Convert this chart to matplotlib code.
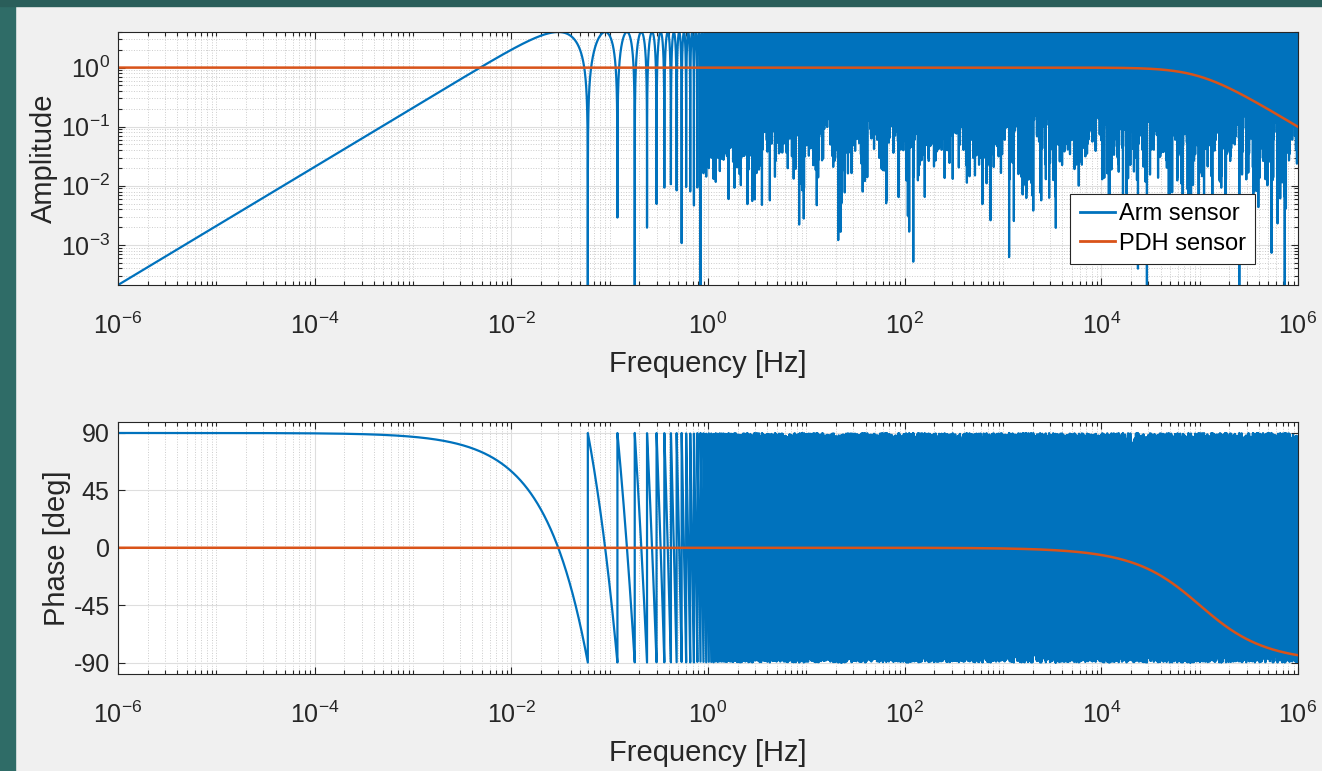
import numpy as np
import matplotlib.pyplot as plt
from matplotlib.patches import Rectangle
from matplotlib.ticker import LogLocator, NullFormatter

# sensor model values
arm_length = 2.5e9          # m, gives the 0.06 Hz notch spacing
c_light = 299792458.0       # m/s
arm_gain = 2.0              # peak amplitude 4
pdh_pole = 1.0e5            # Hz, PDH cavity pole
freq_exp = [-6, 6]          # frequency range, decades
n_points = 100000           # frequency samples

series_names = ['Arm sensor', 'PDH sensor']
x_ticks = [1e-6, 1e-4, 1e-2, 1e0, 1e2, 1e4, 1e6]
amp_ticks = [1e-3, 1e-2, 1e-1, 1e0]
phase_ticks = [-90, -45, 0, 45, 90]

blue = '#0072BD'
orange = '#D95319'

f = np.logspace(freq_exp[0], freq_exp[1], n_points)
T = 2 * arm_length / c_light
arm = arm_gain * (1 - np.exp(-2j * np.pi * f * T))
pdh = 1 / (1 + 1j * f / pdh_pole)

plt.rcParams['font.family'] = ['Liberation Sans', 'DejaVu Sans']
plt.rcParams['mathtext.fontset'] = 'custom'
plt.rcParams['mathtext.rm'] = 'Liberation Sans'
plt.rcParams['mathtext.it'] = 'Liberation Sans:italic'
plt.rcParams['mathtext.bf'] = 'Liberation Sans:bold'
plt.rcParams['axes.unicode_minus'] = False

W, H = 1322, 771
fig = plt.figure(figsize=(W / 100, H / 100), dpi=100, facecolor='#f0f0f0')
# slide background showing on the left and top
fig.patches.append(Rectangle((0, 0), 15 / W, 1, transform=fig.transFigure,
                             color='#2f6c67', zorder=-1))
fig.patches.append(Rectangle((0, 1 - 6 / H), 1, 6 / H, transform=fig.transFigure,
                             color='#2a5e5a', zorder=-1))

ax1 = fig.add_axes([118 / W, 1 - 285 / H, 1180 / W, 253 / H])
ax2 = fig.add_axes([118 / W, 1 - 674 / H, 1180 / W, 252.5 / H])

ax1.loglog(f, np.abs(arm), color=blue, lw=1.6, label=series_names[0])
ax1.loglog(f, np.abs(pdh), color=orange, lw=1.8, label=series_names[1])
ax2.semilogx(f, np.angle(arm, deg=True), color=blue, lw=1.6)
ax2.semilogx(f, np.angle(pdh, deg=True), color=orange, lw=1.8)

amp = np.abs(arm)
ax1.set_ylim(amp[0], amp.max())
ax2.set_ylim(-99, 99)

for ax in (ax1, ax2):
    ax.set_facecolor('white')
    ax.set_xlim(f[0], f[-1])
    ax.set_xticks(x_ticks)
    ax.xaxis.set_minor_locator(LogLocator(base=10, subs=np.arange(1, 10), numticks=200))
    ax.xaxis.set_minor_formatter(NullFormatter())
    ax.tick_params(which='both', direction='in', top=True, right=True,
                   color='#262626', labelcolor='#262626', labelsize=18, width=0.8)
    ax.tick_params(which='major', length=5)
    ax.tick_params(which='minor', length=3)
    ax.tick_params(axis='x', which='major', pad=20)
    ax.tick_params(axis='y', pad=6)
    for sp in ax.spines.values():
        sp.set_color('#262626')
        sp.set_linewidth(0.8)
    ax.grid(True, which='major', color='#dedede', lw=0.8)
    ax.set_axisbelow(True)
    ax.set_xlabel('Frequency [Hz]', fontsize=21, color='#262626', labelpad=8)

ax1.set_yticks(amp_ticks)
ax1.yaxis.set_minor_locator(LogLocator(base=10, subs=np.arange(2, 10), numticks=50))
ax1.yaxis.set_minor_formatter(NullFormatter())
ax1.grid(True, which='minor', color='#cccccc', lw=0.7, ls=':')
ax2.set_yticks(phase_ticks)
ax2.grid(True, which='minor', axis='x', color='#cccccc', lw=0.7, ls=':')

ax1.set_ylabel('Amplitude', fontsize=21, color='#262626')
ax1.yaxis.set_label_coords(-0.051, 0.5)
ax2.set_ylabel('Phase [deg]', fontsize=21, color='#262626')
ax2.yaxis.set_label_coords(-0.040, 0.5)

leg = ax1.legend(loc='lower right', bbox_to_anchor=(0.9636, 0.083), borderaxespad=0,
                 fontsize=17, fancybox=False, framealpha=1, edgecolor='#262626',
                 handlelength=1.5, handletextpad=0.15, labelspacing=0.3,
                 borderpad=0.4)
leg.get_frame().set_linewidth(0.8)
for line in leg.get_lines():
    line.set_linewidth(2)

fig.savefig('out.png', dpi=100, facecolor=fig.get_facecolor())
